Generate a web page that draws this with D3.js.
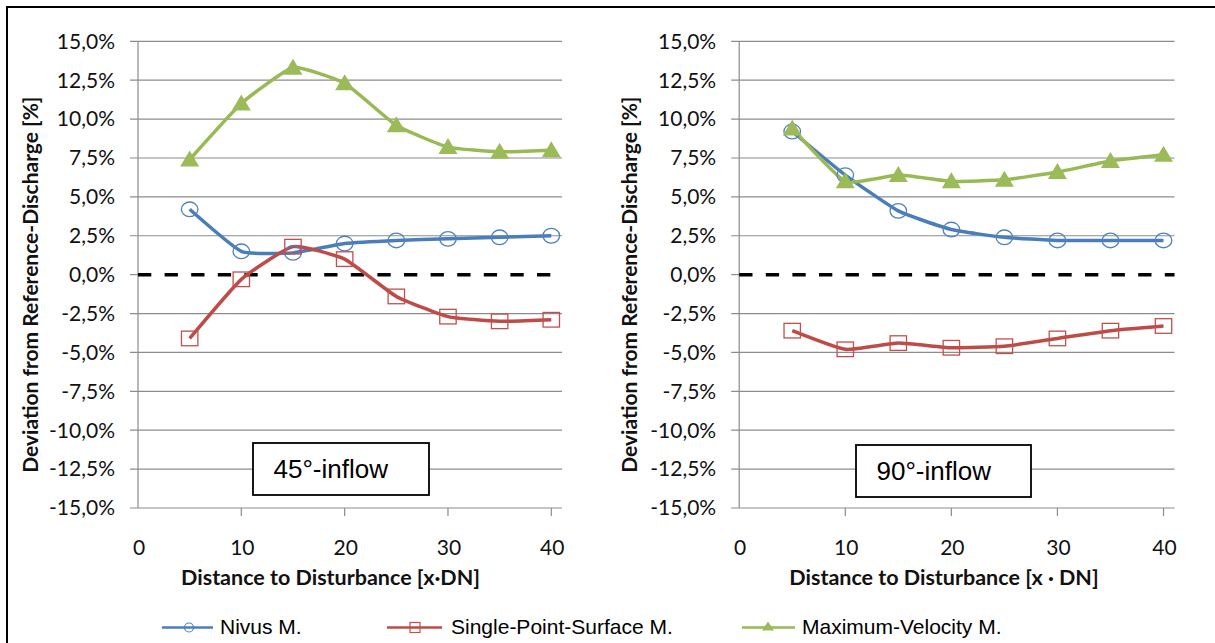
<!DOCTYPE html>
<html><head><meta charset="utf-8">
<script src="https://cdn.jsdelivr.net/npm/d3@7"></script>
<style>
html,body{margin:0;padding:0;background:#fff;}
svg{display:block;}
</style></head>
<body>
<svg id="chart" width="1215" height="643"></svg>
<script>
// ---------- data ----------
const distances = [5, 10, 15, 20, 25, 30, 35, 40];
const xTicks = [0, 10, 20, 30, 40];
const yTicks = [-15, -12.5, -10, -7.5, -5, -2.5, 0, 2.5, 5, 7.5, 10, 12.5, 15];
const seriesNames = ["Nivus M.", "Single-Point-Surface M.", "Maximum-Velocity M."];

const nivus45   = [4.2, 1.5, 1.4, 2.0, 2.2, 2.3, 2.4, 2.5];
const single45  = [-4.1, -0.3, 1.8, 1.0, -1.4, -2.7, -3.0, -2.9];
const maxVel45  = [7.4, 11.0, 13.3, 12.3, 9.6, 8.2, 7.9, 8.0];

const nivus90   = [9.2, 6.4, 4.1, 2.9, 2.4, 2.2, 2.2, 2.2];
const single90  = [-3.6, -4.8, -4.4, -4.7, -4.6, -4.1, -3.6, -3.3];
const maxVel90  = [9.4, 6.0, 6.4, 6.0, 6.1, 6.6, 7.3, 7.7];

const panelLabels = ["45°-inflow", "90°-inflow"];
const xTitles = ["Distance to Disturbance [x\u00B7DN]", "Distance to Disturbance [x \u00B7 DN]"];
const yTitle = "Deviation from Reference-Discharge [%]";

// ---------- style ----------
const colors = {
  line: ["#4A7EBB", "#BE4B48", "#98B954"],
  marker: ["#4F81BD", "#C0504D", "#9BBB59"]
};
const tickFont = "Lato, 'Liberation Sans', sans-serif";
const svg = d3.select("#chart");

const locale = d3.formatLocale({decimal: ",", thousands: ".", grouping: [3], currency: ["", "€"], minus: "-"});
const pct = v => locale.format(".1f")(v) + "%";

// outer frame
svg.append("path").attr("d", "M7,643 L7,7 L1215,7").attr("fill", "none")
  .attr("stroke", "#000").attr("stroke-width", 2);

const panels = [
  {x0: 138, x1: 551.3, gridEnd: 562, yTitleX: 31, xTitleX: 330.5, box: [253, 443, 176, 52], series: [nivus45, single45, maxVel45]},
  {x0: 739.2, x1: 1163.5, gridEnd: 1174.5, yTitleX: 629.5, xTitleX: 944, box: [856, 445, 175, 52], series: [nivus90, single90, maxVel90]}
];

panels.forEach((p, pi) => {
  const g = svg.append("g");
  const x = d3.scaleLinear().domain([0, 40]).range([p.x0, p.x1]);
  const y = d3.scaleLinear().domain([-15, 15]).range([508, 41.3]);

  // gridlines
  g.selectAll(".grid").data(yTicks.filter(v => v !== 0)).join("line")
    .attr("x1", p.x0 - 8).attr("x2", p.gridEnd)
    .attr("y1", d => y(d)).attr("y2", d => y(d))
    .attr("stroke", "#8c8c8c").attr("stroke-width", 1.2);
  g.append("line").attr("x1", p.x0 - 8).attr("x2", p.x0).attr("y1", y(0)).attr("y2", y(0))
    .attr("stroke", "#8c8c8c").attr("stroke-width", 1.2);

  // y axis line
  g.append("line").attr("x1", p.x0).attr("x2", p.x0).attr("y1", y(15)).attr("y2", y(-15))
    .attr("stroke", "#8c8c8c").attr("stroke-width", 1.2);
  // x tick marks
  g.selectAll(".xt").data(xTicks.filter(v => v !== 0)).join("line")
    .attr("x1", d => x(d)).attr("x2", d => x(d)).attr("y1", y(-15)).attr("y2", y(-15) + 8)
    .attr("stroke", "#8c8c8c").attr("stroke-width", 1.2);

  // y tick labels
  g.selectAll(".yl").data(yTicks).join("text")
    .attr("x", p.x0 - 23).attr("y", d => y(d)).attr("dy", "0.35em")
    .attr("text-anchor", "end").attr("font-family", tickFont).attr("font-size", 21)
    .attr("fill", "#111").text(d => pct(d));
  // x tick labels
  g.selectAll(".xl").data(xTicks).join("text")
    .attr("x", d => x(d) + 1).attr("y", 548).attr("dy", "0.35em")
    .attr("text-anchor", "middle").attr("font-family", tickFont).attr("font-size", 21)
    .attr("fill", "#111").text(d => d);

  // zero dashed line
  g.append("line").attr("x1", p.x0).attr("x2", p.gridEnd).attr("y1", y(0)).attr("y2", y(0))
    .attr("stroke", "#000").attr("stroke-width", 3.5).attr("stroke-dasharray", "13.3,13.3");

  // axis titles
  g.append("text").attr("transform", `translate(${p.yTitleX},${(y(15)+y(-15))/2 + 10}) rotate(-90)`)
    .attr("text-anchor", "middle").attr("dy", "0.35em")
    .attr("font-family", tickFont).attr("font-weight", "bold").attr("font-size", 21)
    .attr("fill", "#111").text(yTitle);
  g.append("text").attr("x", p.xTitleX).attr("y", 577).attr("dy", "0.35em")
    .attr("text-anchor", "middle").attr("font-family", tickFont).attr("font-weight", "bold")
    .attr("font-size", 21.5).attr("fill", "#111").text(xTitles[pi]);

  // series lines
  const line = d3.line().x((d, i) => x(distances[i])).y(d => y(d)).curve(d3.curveCardinal.tension(0.55));
  p.series.forEach((vals, si) => {
    g.append("path").datum(vals).attr("d", line).attr("fill", "none")
      .attr("stroke", colors.line[si]).attr("stroke-width", 3.5).attr("stroke-linejoin", "round");
  });
  // markers
  p.series.forEach((vals, si) => {
    const mg = g.append("g");
    vals.forEach((v, i) => {
      const cx = x(distances[i]), cy = y(v);
      if (si === 0) {
        mg.append("ellipse").attr("cx", cx).attr("cy", cy).attr("rx", 8.3).attr("ry", 7.3)
          .attr("fill", "none").attr("stroke", colors.marker[0]).attr("stroke-width", 1.3);
      } else if (si === 1) {
        mg.append("rect").attr("x", cx - 8.2).attr("y", cy - 7.3).attr("width", 16.4).attr("height", 14.6)
          .attr("fill", "none").attr("stroke", colors.marker[1]).attr("stroke-width", 1.3);
      } else {
        mg.append("path").attr("d", `M${cx},${cy-9} L${cx+9.5},${cy+7} L${cx-9.5},${cy+7} Z`)
          .attr("fill", colors.marker[2]);
      }
    });
  });

  // annotation box
  g.append("rect").attr("x", p.box[0]).attr("y", p.box[1]).attr("width", p.box[2]).attr("height", p.box[3])
    .attr("fill", "#fff").attr("stroke", "#000").attr("stroke-width", 1.8);
  g.append("text").attr("x", p.box[0] + 20.5).attr("y", p.box[1] + p.box[3] / 2).attr("dy", "0.36em")
    .attr("font-family", "'Liberation Sans', Arial, sans-serif").attr("font-size", 26)
    .attr("fill", "#000").text(panelLabels[pi]);
});

// legend
const legendItems = [
  {x1: 162, x2: 213, mx: 189, tx: 220},
  {x1: 387, x2: 442, mx: 415, tx: 451},
  {x1: 742, x2: 795, mx: 768, tx: 802}
];
const ly = 627.5;
legendItems.forEach((it, si) => {
  const lg = svg.append("g");
  lg.append("line").attr("x1", it.x1).attr("x2", it.x2).attr("y1", ly).attr("y2", ly)
    .attr("stroke", colors.line[si]).attr("stroke-width", 2.5);
  const cx = it.mx;
  if (si === 0) {
    lg.append("circle").attr("cx", cx).attr("cy", ly).attr("r", 4.5)
      .attr("fill", "none").attr("stroke", colors.marker[0]).attr("stroke-width", 1.2);
  } else if (si === 1) {
    lg.append("rect").attr("x", cx - 5).attr("y", ly - 5).attr("width", 10).attr("height", 10)
      .attr("fill", "none").attr("stroke", colors.marker[1]).attr("stroke-width", 1.2);
  } else {
    lg.append("path").attr("d", `M${cx},${ly-6} L${cx+6},${ly+3} L${cx-6},${ly+3} Z`).attr("fill", colors.marker[2]);
  }
  lg.append("text").attr("x", it.tx).attr("y", 634)
    .attr("font-family", "'Liberation Sans', Arial, sans-serif").attr("font-size", 21)
    .attr("fill", "#000").text(seriesNames[si]);
});
</script>
</body></html>
